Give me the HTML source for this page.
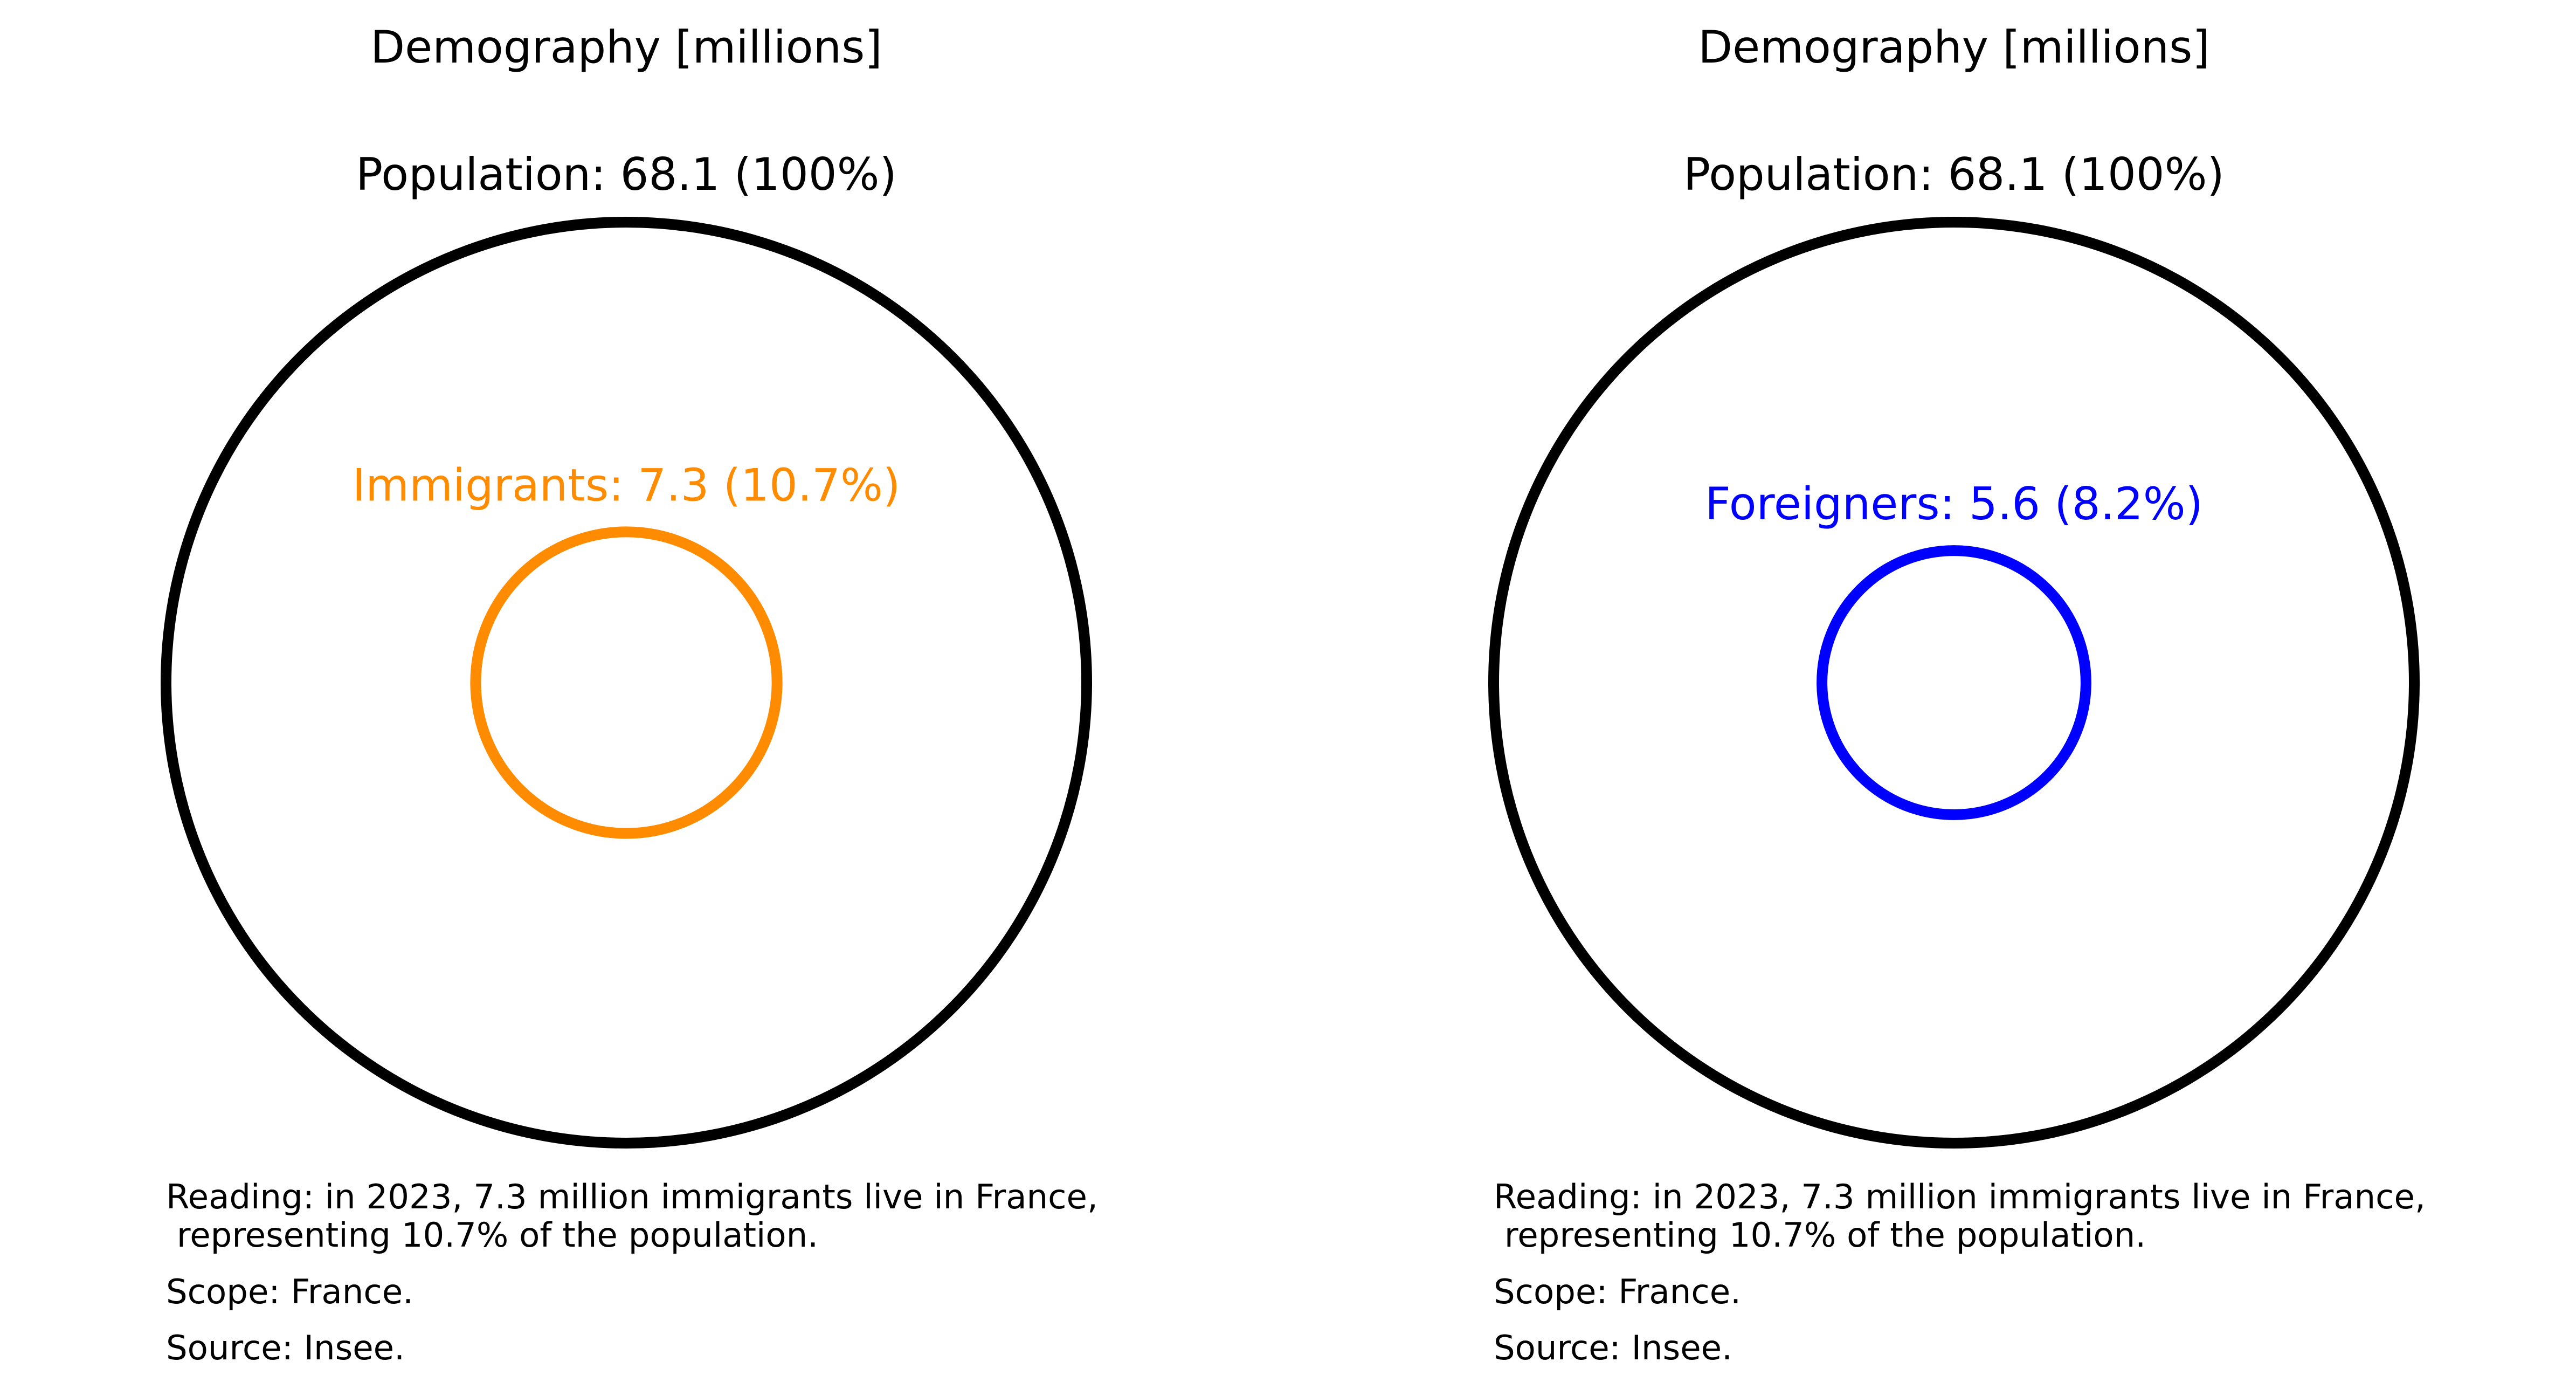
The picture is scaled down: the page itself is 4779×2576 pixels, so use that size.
<!DOCTYPE html>
<html><head><meta charset="utf-8"><style>
html,body{margin:0;padding:0;background:#fff;}
svg{display:block;font-family:"DejaVu Sans","Liberation Sans",sans-serif;}
</style></head><body>
<svg id="chart" width="4779" height="2576" viewBox="0 0 4779 2576" xmlns="http://www.w3.org/2000/svg"></svg>
<script>
const panelTitles = ["Demography [millions]", "Demography [millions]"];
const totalValues = [68.1, 68.1];
const subLabels = ["Immigrants", "Foreigners"];
const subValues = [7.3, 5.6];
const subPercents = ["10.7%", "8.2%"];
const subColors = ["#FF8C00", "#0000FF"];
const noteLines = ["Reading: in 2023, 7.3 million immigrants live in France,", " representing 10.7% of the population.", "Scope: France.", "Source: Insee."];

const NS = "http://www.w3.org/2000/svg";
const svg = document.getElementById("chart");
const centersX = [1162, 3625];
const cy = 1266, R = 854;
function rScale(v, total){ return R * Math.sqrt(v / total); }
function mk(tag, attrs, parent){
  const e = document.createElementNS(NS, tag);
  for (const k in attrs) e.setAttribute(k, attrs[k]);
  (parent || svg).appendChild(e);
  return e;
}
const noteBaselines = [2241, 2312, 2417, 2521];
for (let i = 0; i < 2; i++) {
  const g = mk("g", {});
  
  
  const cx = centersX[i];
  const t = mk("text", {x: cx, y: 116, "text-anchor": "middle", "font-size": 83, fill: "#000"}, g);
  t.textContent = panelTitles[i];
  
  
  const outer = mk("circle", {cx: cx, cy: cy, r: R, fill: "none", stroke: "#000", "stroke-width": 20}, g);
  
  
  const pl = mk("text", {x: cx, y: cy - R - 60, "text-anchor": "middle", "font-size": 83, fill: "#000"}, g);
  pl.textContent = "Population: " + totalValues[i] + " (100%)";
  
  
  const r = rScale(subValues[i], totalValues[i]);
  const inner = mk("circle", {cx: cx, cy: cy, r: r, fill: "none", stroke: subColors[i], "stroke-width": 20}, g);
  
  
  const il = mk("text", {x: cx, y: cy - r - 58, "text-anchor": "middle", "font-size": 83, fill: subColors[i]}, g);
  il.textContent = subLabels[i] + ": " + subValues[i] + " (" + subPercents[i] + ")";
  
  
  for (let j = 0; j < noteLines.length; j++) {
    const n = mk("text", {x: cx - R, y: noteBaselines[j], "font-size": 62.5, fill: "#000", "xml:space": "preserve"}, g);
    n.style.whiteSpace = "pre";
    n.textContent = noteLines[j];
    
    
  }
}
</script>
</body></html>
